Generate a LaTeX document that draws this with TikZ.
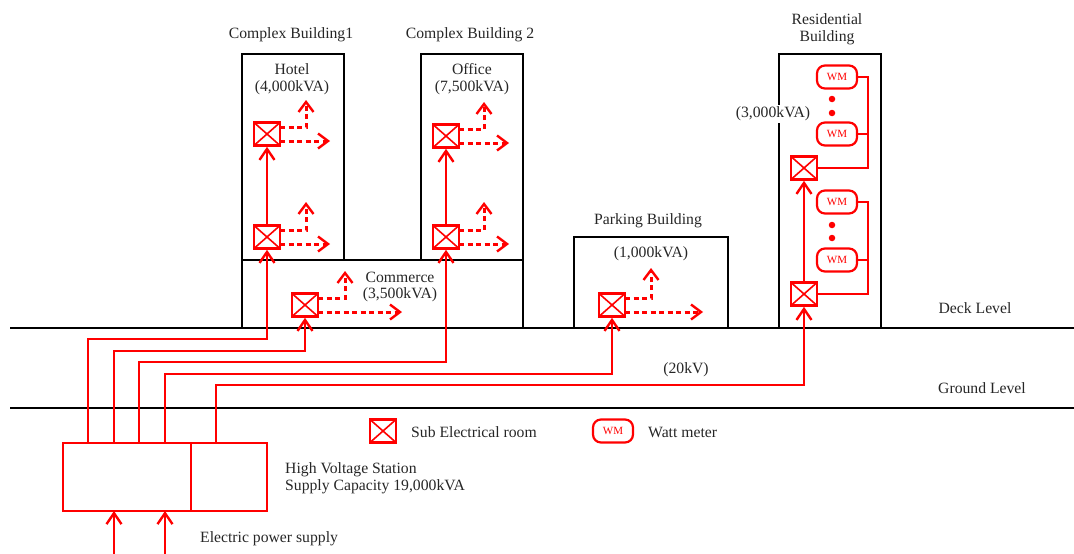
\documentclass[tikz,border=0pt]{standalone}
\usepackage{xcolor}
\usepackage{fontspec}
\setmainfont{Liberation Serif}
\usetikzlibrary{arrows.meta}
\tikzset{
wall/.style={draw=black,line width=2.4pt,inner sep=0pt},
level/.style={line width=2pt},
subroom/.style={draw=red,line width=2.6pt,minimum width=26pt,minimum height=23pt,inner sep=0pt,
  path picture={\draw[red,line width=1.6pt] (path picture bounding box.north west) -- (path picture bounding box.south east)
  (path picture bounding box.north east) -- (path picture bounding box.south west);}},
meter/.style={draw=red,line width=2.2pt,rounded corners=8pt,minimum width=40pt,minimum height=23pt,inner sep=0pt,text=red,font=\fontsize{11}{11}\selectfont},
station/.style={draw=red,line width=2.4pt,minimum height=68pt,inner sep=0pt},
feed/.style={red,line width=2.4pt,-{Straight Barb[length=11pt,width=15pt,line width=2.4pt]}},
wire/.style={red,line width=2.4pt},
branch/.style={red,line width=3pt,dash pattern=on 5pt off 3.5pt,-{Straight Barb[length=10pt,width=15pt,line width=2.4pt]}},
dot/.style={circle,fill=red,minimum size=6.5pt,inner sep=0pt},
label/.style={font=\fontsize{15.7}{16.8}\selectfont,align=center,text=black!85,inner sep=0pt,yshift=-1pt}
}
\begin{document}
\begin{tikzpicture}[x=1pt,y=-1pt]
\useasboundingbox (0,0) rectangle (1074,554);
% levels
\coordinate (deckL) at (10,328);
\coordinate (deckR) at (1074,328);
\coordinate (groundL) at (10,408);
\coordinate (groundR) at (1074,408);
\draw[level] (deckL) -- (deckR);
\draw[level] (groundL) -- (groundR);
% buildings
\node[wall,minimum width=102pt,minimum height=206pt] (complexA) at (293,157) {};
\node[wall,minimum width=102pt,minimum height=206pt] (complexB) at (472,157) {};
\node[wall,minimum width=281pt,minimum height=68pt] (commerce) at (382.5,294) {};
\node[wall,minimum width=154pt,minimum height=91pt] (parking) at (651,282.5) {};
\node[wall,minimum width=102pt,minimum height=274pt] (residential) at (830,191) {};
% electrical rooms
\node[subroom] (hotelUp) at (267,134) {};
\node[subroom] (hotelLow) at (267,237) {};
\node[subroom] (officeUp) at (446,136) {};
\node[subroom] (officeLow) at (446,237) {};
\node[subroom] (commerceRoom) at (305,305) {};
\node[subroom] (parkingRoom) at (612,305) {};
\node[subroom] (resUp) at (804,168) {};
\node[subroom] (resLow) at (804,294) {};
% watt meters
\node[meter] (wmA) at (837,77) {WM};
\node[meter] (wmB) at (837,134) {WM};
\node[meter] (wmC) at (837,202) {WM};
\node[meter] (wmD) at (837,260) {WM};
\node[dot] (dotA) at (832,99) {};
\node[dot] (dotB) at (832,113) {};
\node[dot] (dotC) at (832,225) {};
\node[dot] (dotD) at (832,238) {};
\coordinate (busA) at (868,134);
\coordinate (busB) at (868,260);
\draw[wire] (wmA.east) -| (busA) |- (resUp.east);
\draw[wire] (wmB.east) -- (busA);
\draw[wire] (wmC.east) -| (busB) |- (resLow.east);
\draw[wire] (wmD.east) -- (busB);
% station
\node[station,minimum width=128pt] (stationA) at (127,477) {};
\node[station,minimum width=76pt] (stationB) at (229,477) {};
% feeders
\coordinate (feedA) at (88,443);
\coordinate (feedB) at (114,443);
\coordinate (feedC) at (139,443);
\coordinate (feedD) at (165,443);
\coordinate (feedE) at (216,443);
\draw[feed] (feedA) -- ++(0,-104) -| (hotelLow);
\draw[feed] (feedB) -- ++(0,-92) -| (commerceRoom);
\draw[feed] (feedC) -- ++(0,-81) -| (officeLow);
\draw[feed] (feedD) -- ++(0,-69) -| (parkingRoom);
\draw[feed] (feedE) -- ++(0,-58) -| (resLow);
\draw[feed] (hotelLow) -- (hotelUp);
\draw[feed] (officeLow) -- (officeUp);
\draw[feed] (resLow) -- (resUp);
\coordinate (inA) at (114,554);
\coordinate (inB) at (165,554);
\coordinate (inAtop) at (114,511);
\coordinate (inBtop) at (165,511);
\draw[feed] (inA) -- (inAtop);
\draw[feed] (inB) -- (inBtop);
% branches
\draw[branch] (280,127) -| (306,100);
\draw[branch] (280,141) -- (330,141);
\draw[branch] (280,230) -| (306,202);
\draw[branch] (280,244) -- (330,244);
\draw[branch] (459,129) -| (484,102);
\draw[branch] (459,143) -- (509,143);
\draw[branch] (459,230) -| (484,202);
\draw[branch] (459,244) -- (509,244);
\draw[branch] (318,298) -| (345,271);
\draw[branch] (318,312) -- (402,312);
\draw[branch] (625,298) -| (651,268);
\draw[branch] (625,312) -- (703,312);
% labels
\node[label] (complexAName) at (291,34) {Complex Building1};
\node[label] (complexBName) at (470,34) {Complex Building 2};
\node[label] (hotelName) at (292,78) {Hotel\\(4,000kVA)};
\node[label] (officeName) at (472,78) {Office\\(7,500kVA)};
\node[label] (commerceName) at (400,286) {Commerce\\(3,500kVA)};
\node[label] (parkingName) at (648,220) {Parking Building};
\node[label] (parkingLoad) at (651,253) {(1,000kVA)};
\node[label] (resName) at (827,28) {Residential\\Building};
\node[label,fill=white,inner sep=2pt] (resLoad) at (773,113) {(3,000kVA)};
\node[label] (deckName) at (975,307) {Deck Level};
\node[label] (groundName) at (982,387) {Ground Level};
\node[label] (voltName) at (686,369) {(20kV)};
\node[label,anchor=west,align=left] (stationName) at (285,477) {High Voltage Station\\Supply Capacity 19,000kVA};
\node[label,anchor=west] (supplyName) at (200,538) {Electric power supply};
% legend
\node[subroom] (legendRoom) at (383,431) {};
\node[label,anchor=west] (legendRoomName) at (411,431) {Sub Electrical room};
\node[meter] (legendMeter) at (613,431) {WM};
\node[label,anchor=west] (legendMeterName) at (648,431) {Watt meter};
\end{tikzpicture}
\end{document}
